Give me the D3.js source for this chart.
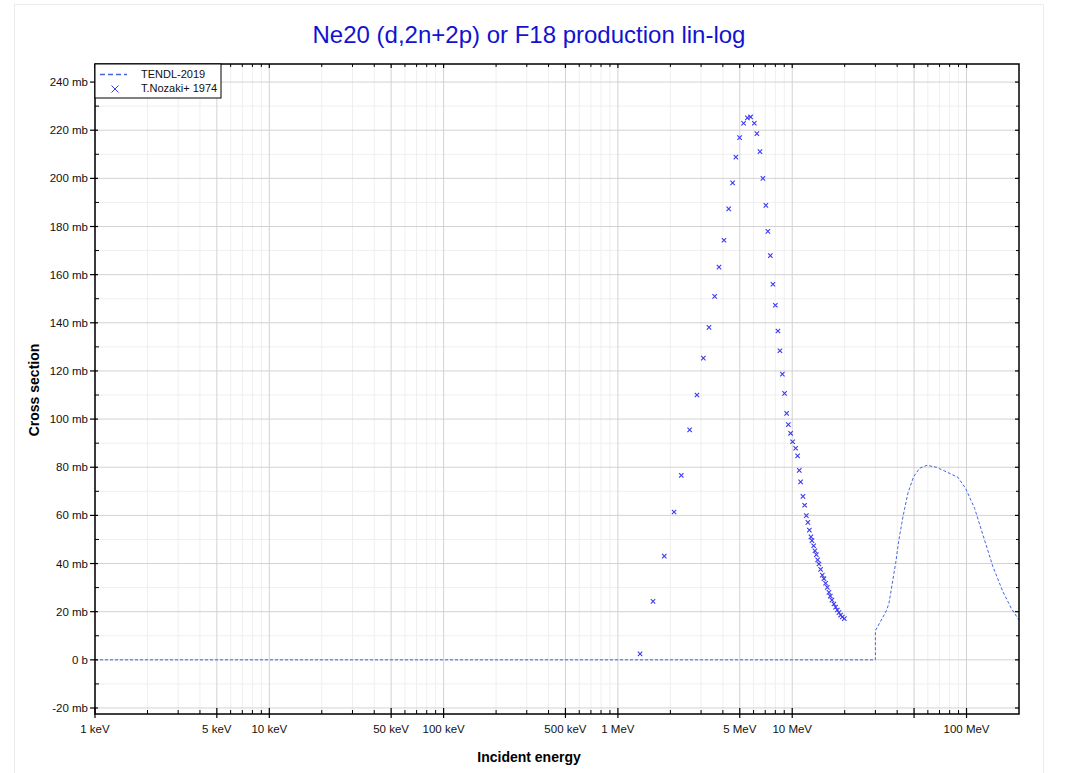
<!DOCTYPE html>
<html><head><meta charset="utf-8">
<script src="https://cdn.jsdelivr.net/npm/d3@7"></script>
<style>
html,body{margin:0;padding:0;background:#fff;}
svg text{font-family:"Liberation Sans",Arial,sans-serif;}
</style></head>
<body>
<svg id="chart" width="1067" height="773"></svg>
<script>
// ---- data (energies in MeV, cross sections in mb) ----
const tendlE  = [0.001, 30.0, 30.0, 34.7, 35.9, 39.2, 40.9, 43.2, 46.1, 49.7, 53.8, 59.3, 67.1, 76.6, 89.3, 98.8, 111.3, 124.3, 141.7, 161.7, 180.6, 200];
const tendlXS = [0, 0, 12.1, 20.4, 23.5, 40.1, 49.8, 59.5, 69.2, 76.1, 79.6, 80.8, 80.0, 78.1, 75.8, 71.2, 62.9, 51.8, 38.7, 28.3, 21.4, 16.5];

const nozakiE  = [1.34, 1.59, 1.845, 2.10, 2.31, 2.58, 2.84, 3.09, 3.33, 3.59, 3.80, 4.06, 4.32, 4.55, 4.75, 4.99, 5.26, 5.53, 5.77, 6.06, 6.27, 6.53, 6.79, 7.06, 7.25, 7.49, 7.75, 8.00, 8.28, 8.50, 8.78, 9.04, 9.29, 9.50, 9.79, 10.05, 10.46, 10.74, 10.98, 11.17, 11.52, 11.78, 12.05, 12.30, 12.54, 12.80, 12.98, 13.27, 13.50, 13.75, 13.99, 14.23, 14.55, 14.88, 15.20, 15.54, 15.90, 16.24, 16.54, 16.90, 17.35, 17.74, 18.15, 18.53, 18.96, 19.39, 19.91];
const nozakiXS = [2.5, 24.3, 43.1, 61.4, 76.6, 95.5, 110.0, 125.3, 138.1, 151.0, 163.1, 174.3, 187.3, 198.1, 208.8, 216.9, 222.9, 225.1, 225.5, 222.9, 218.6, 211.1, 200.0, 188.8, 178.0, 167.9, 156.0, 147.3, 136.6, 128.4, 118.7, 110.7, 102.4, 97.7, 94.1, 90.6, 87.9, 84.7, 78.7, 73.9, 67.9, 64.2, 59.9, 57.1, 53.9, 51.1, 49.5, 47.4, 45.3, 43.7, 41.5, 39.8, 37.6, 35.2, 33.7, 31.8, 30.1, 28.0, 26.5, 24.8, 23.2, 21.9, 20.7, 19.6, 18.6, 17.8, 17.1];

const xMajorTicks  = [0.001, 0.005, 0.01, 0.05, 0.1, 0.5, 1, 5, 10, 50, 100];
const xMajorLabels = ["1 keV", "5 keV", "10 keV", "50 keV", "100 keV", "500 keV", "1 MeV", "5 MeV", "10 MeV", "", "100 MeV"];
const yMajorTicks  = [-20, 0, 20, 40, 60, 80, 100, 120, 140, 160, 180, 200, 220, 240];
const yMajorLabels = ["-20 mb", "0 b", "20 mb", "40 mb", "60 mb", "80 mb", "100 mb", "120 mb", "140 mb", "160 mb", "180 mb", "200 mb", "220 mb", "240 mb"];

const titleText = "Ne20 (d,2n+2p) or F18 production lin-log";
const seriesNames = ["TENDL-2019", "T.Nozaki+ 1974"];

// ---- layout ----
const L = 95, R = 1019, T = 64, B = 714;
const svg = d3.select("#chart");
const x = d3.scaleLog().domain([0.001, 200]).range([L, R]);
const y = d3.scaleLinear().domain([-22.5, 247.5]).range([B, T]);

const lineCol = "#4466e0", markCol = "#3a3af5";

// outer panel
svg.append("rect").attr("x", 14.5).attr("y", 4.5).attr("width", 1029).attr("height", 780)
  .attr("fill", "none").attr("stroke", "#ececec");

// minor ticks
const xMinor = [];
for (let d = 0.001; d < 200; d *= 10) {
  for (const m of [2, 3, 4, 6, 7, 8, 9]) { const v = d * m; if (v < 200) xMinor.push(v); }
}
const yMinor = [];
for (let v = -10; v <= 240; v += 20) yMinor.push(v);

const grid = svg.append("g");
grid.selectAll(".gxm").data(xMinor).enter().append("line")
  .attr("x1", d => x(d)).attr("x2", d => x(d)).attr("y1", T).attr("y2", B)
  .attr("stroke", "#efefef").attr("stroke-width", 1);
grid.selectAll(".gym").data(yMinor).enter().append("line")
  .attr("x1", L).attr("x2", R).attr("y1", d => y(d)).attr("y2", d => y(d))
  .attr("stroke", "#efefef").attr("stroke-width", 1);
grid.selectAll(".gxM").data(xMajorTicks).enter().append("line")
  .attr("x1", d => x(d)).attr("x2", d => x(d)).attr("y1", T).attr("y2", B)
  .attr("stroke", "#d2d2d2").attr("stroke-width", 1);
grid.selectAll(".gyM").data(yMajorTicks).enter().append("line")
  .attr("x1", L).attr("x2", R).attr("y1", d => y(d)).attr("y2", d => y(d))
  .attr("stroke", "#d2d2d2").attr("stroke-width", 1);

// clip
svg.append("clipPath").attr("id", "clip").append("rect")
  .attr("x", L).attr("y", T).attr("width", R - L).attr("height", B - T);
const plot = svg.append("g").attr("clip-path", "url(#clip)");

// TENDL line
const tendl = tendlE.map((e, i) => [e, tendlXS[i]]);
plot.append("path").datum(tendl)
  .attr("d", d3.line().x(d => x(d[0])).y(d => y(d[1])))
  .attr("fill", "none").attr("stroke", lineCol).attr("stroke-width", 1)
  .attr("stroke-dasharray", "3,2");

// Nozaki markers
const noz = nozakiE.map((e, i) => [e, nozakiXS[i]]);
const s = 2.2;
plot.selectAll(".pt").data(noz).enter().append("path")
  .attr("d", d => { const px = x(d[0]), py = y(d[1]);
    return `M${px - s},${py - s}L${px + s},${py + s}M${px - s},${py + s}L${px + s},${py - s}`; })
  .attr("stroke", markCol).attr("stroke-width", 1.1).attr("fill", "none");

// axes frame
const ax = svg.append("g").attr("stroke", "#000");
ax.append("rect").attr("x", L).attr("y", T).attr("width", R - L).attr("height", B - T)
  .attr("fill", "none").attr("stroke", "#000").attr("stroke-width", 1.5);

ax.selectAll(".bM").data(xMajorTicks).enter().append("line")
  .attr("x1", d => x(d)).attr("x2", d => x(d)).attr("y1", B - 6).attr("y2", B + 4).attr("stroke-width", 1.2);
ax.selectAll(".bm").data(xMinor).enter().append("line")
  .attr("x1", d => x(d)).attr("x2", d => x(d)).attr("y1", B - 4).attr("y2", B).attr("stroke-width", 1);
ax.selectAll(".tM").data(xMajorTicks).enter().append("line")
  .attr("x1", d => x(d)).attr("x2", d => x(d)).attr("y1", T).attr("y2", T + 4).attr("stroke-width", 1.2);
ax.selectAll(".tm").data(xMinor).enter().append("line")
  .attr("x1", d => x(d)).attr("x2", d => x(d)).attr("y1", T).attr("y2", T + 3).attr("stroke-width", 1);
ax.selectAll(".lM").data(yMajorTicks).enter().append("line")
  .attr("x1", L - 5).attr("x2", L + 3).attr("y1", d => y(d)).attr("y2", d => y(d)).attr("stroke-width", 1.2);
ax.selectAll(".lm").data(yMinor).enter().append("line")
  .attr("x1", L).attr("x2", L + 4).attr("y1", d => y(d)).attr("y2", d => y(d)).attr("stroke-width", 1);
ax.selectAll(".rM").data(yMajorTicks).enter().append("line")
  .attr("x1", R - 4).attr("x2", R).attr("y1", d => y(d)).attr("y2", d => y(d)).attr("stroke-width", 1.2);
ax.selectAll(".rm").data(yMinor).enter().append("line")
  .attr("x1", R - 3).attr("x2", R).attr("y1", d => y(d)).attr("y2", d => y(d)).attr("stroke-width", 1);

// tick labels
svg.selectAll(".xl").data(xMajorTicks).enter().append("text")
  .attr("x", d => x(d)).attr("y", B + 19).attr("text-anchor", "middle")
  .attr("font-size", 11.5).attr("fill", "#111").text((d, i) => xMajorLabels[i]);
svg.selectAll(".yl").data(yMajorTicks).enter().append("text")
  .attr("x", L - 7).attr("y", d => y(d) + 4).attr("text-anchor", "end")
  .attr("font-size", 11.5).attr("fill", "#111").text((d, i) => yMajorLabels[i]);

// title & axis titles
svg.append("text").attr("x", 529).attr("y", 43).attr("text-anchor", "middle")
  .attr("font-size", 24).attr("fill", "#1212d0").text(titleText);
svg.append("text").attr("x", 529).attr("y", 762).attr("text-anchor", "middle")
  .attr("font-size", 14).attr("font-weight", "bold").attr("fill", "#000").text("Incident energy");
svg.append("text").attr("transform", "translate(39,390) rotate(-90)").attr("text-anchor", "middle")
  .attr("font-size", 14).attr("font-weight", "bold").attr("fill", "#000").text("Cross section");

// legend
const lg = svg.append("g");
lg.append("rect").attr("x", L).attr("y", T).attr("width", 126).attr("height", 34)
  .attr("fill", "#fff").attr("stroke", "#000").attr("stroke-width", 1);
lg.append("line").attr("x1", 100).attr("x2", 127).attr("y1", 74.5).attr("y2", 74.5)
  .attr("stroke", lineCol).attr("stroke-width", 1.5).attr("stroke-dasharray", "5,3");
const lx = 115, ly = 89, ls = 3.5;
lg.append("path").attr("d", `M${lx - ls},${ly - ls}L${lx + ls},${ly + ls}M${lx - ls},${ly + ls}L${lx + ls},${ly - ls}`)
  .attr("stroke", markCol).attr("stroke-width", 1);
lg.selectAll(".lt").data(seriesNames).enter().append("text")
  .attr("x", 141).attr("y", (d, i) => 78 + i * 14).attr("font-size", 11).attr("fill", "#111").text(d => d);
</script>
</body></html>
